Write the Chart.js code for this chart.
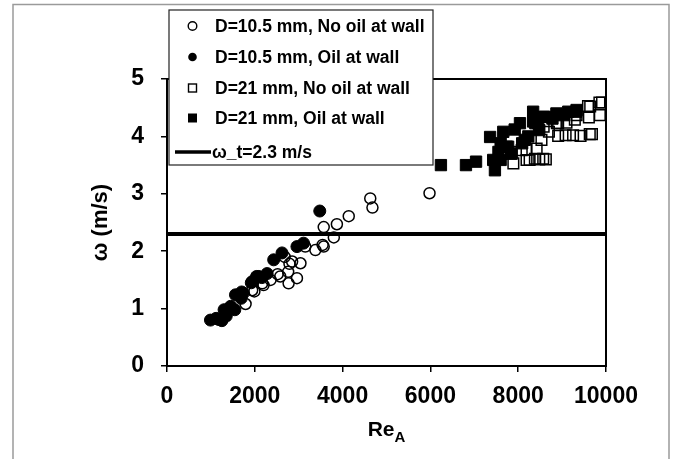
<!DOCTYPE html>
<html>
<head>
<meta charset="utf-8">
<script src="https://cdn.jsdelivr.net/npm/chart.js@4.4.0/dist/chart.umd.min.js"></script>
<style>
  html, body { margin: 0; padding: 0; background: #fff; }
  #wrap { position: relative; width: 676px; height: 459px; }
</style>
</head>
<body>
<div id="wrap"><canvas id="chart" width="676" height="459"></canvas></div>
<script>
// D=10.5 mm, no oil at wall (open circles)
var smallNoOilX = [1790, 1940, 1990, 2170, 2200, 2360, 2520, 2580, 2680, 2770, 2760, 2790, 2850, 2960, 3040, 3150, 3380, 3570, 3545, 3570, 3800, 3870, 4140, 4630, 4680, 5980];
var smallNoOilY = [1.08, 1.32, 1.30, 1.44, 1.41, 1.50, 1.60, 1.56, 1.90, 1.44, 1.64, 1.78, 1.82, 1.53, 1.79, 2.08, 2.02, 2.08, 2.11, 2.42, 2.24, 2.47, 2.61, 2.92, 2.76, 3.01];

// D=10.5 mm, oil at wall (filled circles)
var smallOilX = [990, 1120, 1180, 1250, 1300, 1350, 1450, 1545, 1560, 1690, 1700, 1740, 1920, 1940, 2040, 2090, 2160, 2280, 2430, 2620, 2960, 3110, 3480];
var smallOilY = [0.80, 0.83, 0.81, 0.79, 0.98, 0.87, 1.04, 0.98, 1.24, 1.18, 1.29, 1.27, 1.45, 1.47, 1.56, 1.56, 1.54, 1.61, 1.85, 1.97, 2.08, 2.14, 2.70];

// D=21 mm, no oil at wall (open squares)
var largeNoOilX = [7850, 7890, 7850, 8080, 8190, 8190, 8260, 8380, 8420, 8480, 8530, 8570, 8630, 8580, 8700, 8880, 8910, 8910, 9080, 9100, 9250, 9290, 9330, 9420, 9590, 9610, 9630, 9680, 9640, 9850, 9910, 9860];
var largeNoOilY = [3.70, 3.53, 3.73, 3.76, 3.59, 3.77, 3.59, 3.61, 3.79, 3.60, 3.94, 3.61, 3.60, 4.17, 4.08, 4.23, 4.01, 4.23, 4.02, 4.24, 4.02, 4.29, 4.37, 4.01, 4.53, 4.33, 4.04, 4.04, 4.52, 4.59, 4.59, 4.37];

// D=21 mm, oil at wall (filled squares)
var largeOilX = [6240, 6810, 7040, 7360, 7430, 7470, 7550, 7600, 7600, 7660, 7740, 7770, 7840, 7920, 8040, 8090, 8150, 8230, 8340, 8340, 8390, 8455, 8480, 8580, 8610, 8780, 8870, 9030, 9140, 9320, 9330];
var largeOilY = [3.50, 3.50, 3.56, 3.99, 3.59, 3.41, 3.73, 3.59, 3.88, 4.08, 3.82, 3.82, 3.70, 4.12, 4.23, 3.88, 3.94, 4.00, 4.43, 4.26, 4.23, 4.23, 4.11, 4.34, 4.34, 4.31, 4.40, 4.37, 4.43, 4.43, 4.46];

// threshold line
var thresholdX = [0, 10000];
var thresholdY = [2.3, 2.3];

var xTicks = [0, 2000, 4000, 6000, 8000, 10000];
var yTicks = [0, 1, 2, 3, 4, 5];

function pts(xs, ys) {
    return xs.map(function (x, i) { return { x: x, y: ys[i] }; });
}

var seriesInfo = [
    { label: 'D=10.5 mm, No oil at wall', style: 'circle', fill: false },
    { label: 'D=10.5 mm, Oil at wall', style: 'circle', fill: true },
    { label: 'D=21 mm, No oil at wall', style: 'rect', fill: false },
    { label: 'D=21 mm, Oil at wall', style: 'rect', fill: true },
    { label: 'ω_t=2.3 m/s', style: 'line' }
];

// frame, plot border, legend box and x title
var decor = {
    id: 'decor',
    beforeDraw: function (chart) {
        var c = chart.ctx;
        c.save();
        c.fillStyle = '#fff';
        c.fillRect(0, 0, chart.width, chart.height);
        c.restore();
    },
    afterDraw: function (chart) {
        var c = chart.ctx, a = chart.chartArea;
        c.save();
        // outer frame
        c.strokeStyle = '#9a9a9a';
        c.lineWidth = 1.5;
        c.strokeRect(13, 4.5, 656, 460);
        // plot box
        c.strokeStyle = '#000';
        c.lineWidth = 2;
        c.strokeRect(a.left, a.top, a.right - a.left, a.bottom - a.top);

        // legend
        var lx = 169, ly = 10, lw = 264, lh = 155;
        c.fillStyle = '#fff';
        c.fillRect(lx, ly, lw, lh);
        c.strokeStyle = '#222';
        c.lineWidth = 1.2;
        c.strokeRect(lx, ly, lw, lh);
        var rows = [26, 57, 88, 118, 152];
        c.font = 'bold 17.5px "Liberation Sans", Arial, sans-serif';
        c.textBaseline = 'middle';
        c.fillStyle = '#000';
        seriesInfo.forEach(function (s, i) {
            var y = rows[i];
            c.strokeStyle = '#000';
            c.fillStyle = '#000';
            if (s.style === 'circle') {
                c.beginPath();
                c.arc(192.5, y, 4.3, 0, Math.PI * 2);
                c.lineWidth = 1.4;
                if (s.fill) c.fill(); else c.stroke();
                c.fillText(s.label, 215, y + 1);
            } else if (s.style === 'rect') {
                c.lineWidth = 1.4;
                if (s.fill) c.fillRect(188, y - 4.5, 9, 9);
                else c.strokeRect(188.5, y - 4, 8, 8);
                c.fillText(s.label, 215, y + 1);
            } else {
                c.beginPath();
                c.lineWidth = 3.5;
                c.moveTo(175, y);
                c.lineTo(211, y);
                c.stroke();
                c.fillText(s.label, 212, y + 1);
            }
        });

        // x axis title with subscript
        c.fillStyle = '#000';
        c.textBaseline = 'alphabetic';
        c.textAlign = 'left';
        c.font = 'bold 21px "Liberation Sans", Arial, sans-serif';
        var w1 = c.measureText('Re').width;
        c.font = 'bold 15px "Liberation Sans", Arial, sans-serif';
        var w2 = c.measureText('A').width;
        var x0 = (a.left + a.right) / 2 - (w1 + w2) / 2;
        c.font = 'bold 21px "Liberation Sans", Arial, sans-serif';
        c.fillText('Re', x0, 436);
        c.font = 'bold 15px "Liberation Sans", Arial, sans-serif';
        c.fillText('A', x0 + w1, 442);
        c.restore();
    }
};

var tickFont = { family: '"Liberation Sans", Arial, sans-serif', size: 23, weight: 'bold' };

new Chart(document.getElementById('chart'), {
    type: 'scatter',
    data: {
        datasets: [
            {
                label: seriesInfo[0].label,
                data: pts(smallNoOilX, smallNoOilY),
                pointStyle: 'circle', pointRadius: 5.5,
                backgroundColor: 'rgba(255,255,255,0)', borderColor: '#000', borderWidth: 1.5,
                order: 5
            },
            {
                label: seriesInfo[1].label,
                data: pts(smallOilX, smallOilY),
                pointStyle: 'circle', pointRadius: 6,
                backgroundColor: '#000', borderColor: '#000', borderWidth: 1,
                order: 4
            },
            {
                label: seriesInfo[2].label,
                data: pts(largeNoOilX, largeNoOilY),
                pointStyle: 'rect', pointRadius: 7.5,
                backgroundColor: 'rgba(255,255,255,0)', borderColor: '#000', borderWidth: 1.5,
                order: 3
            },
            {
                label: seriesInfo[3].label,
                data: pts(largeOilX, largeOilY),
                pointStyle: 'rect', pointRadius: 8,
                backgroundColor: '#000', borderColor: '#000', borderWidth: 1,
                order: 2
            },
            {
                type: 'line',
                label: seriesInfo[4].label,
                data: pts(thresholdX, thresholdY),
                borderColor: '#000', borderWidth: 4, pointRadius: 0,
                order: 1
            }
        ]
    },
    options: {
        responsive: false,
        animation: false,
        events: [],
        layout: { padding: { left: 82, top: 79, right: 70, bottom: 0 } },
        plugins: {
            legend: { display: false },
            tooltip: { enabled: false }
        },
        scales: {
            x: {
                type: 'linear', min: 0, max: 10000,
                afterFit: function (s) { s.height = 93; },
                afterBuildTicks: function (s) { s.ticks = xTicks.map(function (v) { return { value: v }; }); },
                ticks: { font: tickFont, color: '#000', padding: 11, maxRotation: 0,
                         callback: function (v) { return String(v); } },
                grid: { display: true, drawOnChartArea: false, drawTicks: true, tickLength: 6, color: '#000', lineWidth: 1.5 },
                border: { display: true, color: '#000', width: 2 }
            },
            y: {
                type: 'linear', min: 0, max: 5,
                afterFit: function (s) { s.width = 85; },
                afterBuildTicks: function (s) { s.ticks = yTicks.map(function (v) { return { value: v }; }); },
                ticks: { font: tickFont, color: '#000', padding: 17,
                         callback: function (v) { return String(v); } },
                grid: { display: true, drawOnChartArea: false, drawTicks: true, tickLength: 6, color: '#000', lineWidth: 1.5 },
                border: { display: true, color: '#000', width: 2 },
                title: {
                    display: true, text: 'ω (m/s)', color: '#000',
                    font: { family: '"Liberation Sans", Arial, sans-serif', size: 22, weight: 'bold' },
                    padding: { top: 6, bottom: 0 }
                }
            }
        }
    },
    plugins: [decor]
});
</script>
</body>
</html>
